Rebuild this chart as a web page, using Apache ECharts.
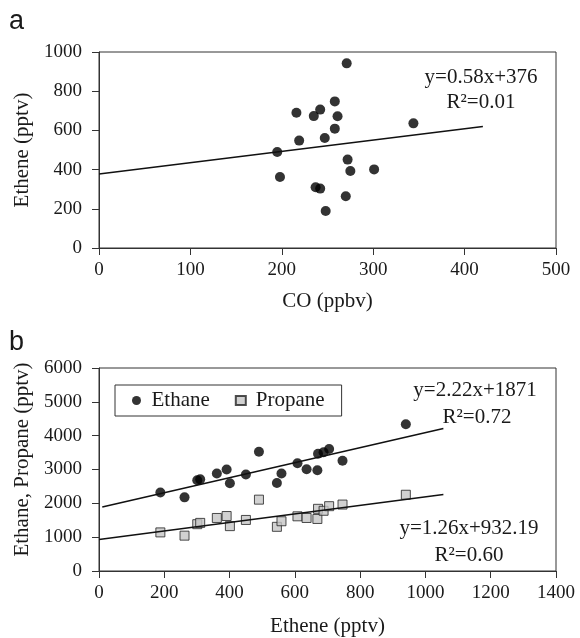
<!DOCTYPE html>
<html>
<head>
<meta charset="utf-8">
<script src="https://cdn.jsdelivr.net/npm/echarts@6/dist/echarts.min.js"></script>
<style>
  html, body { margin: 0; padding: 0; background: #fff; }
  #chart { width: 580px; height: 638px; }
</style>
</head>
<body>
<div id="chart"></div>
<script>
// panel a : ethene vs CO
const coA = [271, 258, 216, 242, 235, 261, 344, 258, 219, 247, 195, 272, 275, 301, 198, 237, 242, 270, 248];
const etheneA = [942, 748, 690, 706, 673, 672, 636, 609, 548, 561, 490, 451, 393, 401, 362, 310, 303, 264, 189];
const fitLineA = [[0, 377], [420, 620]];

// panel b : ethane / propane vs ethene
const etheneB = [188, 262, 301, 310, 361, 391, 401, 450, 490, 545, 559, 608, 636, 669, 671, 688, 705, 746, 940];
const ethane = [2322, 2177, 2680, 2709, 2883, 2999, 2593, 2854, 3522, 2603, 2883, 3183, 3009, 2980, 3463, 3512, 3608, 3261, 4335];
const propane = [1141, 1045, 1384, 1422, 1567, 1625, 1326, 1509, 2109, 1306, 1470, 1616, 1567, 1538, 1838, 1780, 1916, 1964, 2254];
const fitLineEthane = [[10, 1890], [1055, 4210]];
const fitLinePropane = [[0, 930], [1055, 2260]];

const seriesNames = ['Ethane', 'Propane'];
const fitTexts = ['y=0.58x+376', 'R\u00b2=0.01', 'y=2.22x+1871', 'R\u00b2=0.72', 'y=1.26x+932.19', 'R\u00b2=0.60'];

const serif = "'Liberation Serif', 'Times New Roman', serif";
const ink = '#1a1a1a';

function pairs(xs, ys) {
    return xs.map((x, i) => [x, ys[i]]);
}

function valueAxis(gridIndex, min, max, interval, name, gap, labelMargin) {
    return {
        type: 'value',
        gridIndex: gridIndex,
        min: min,
        max: max,
        interval: interval,
        name: name,
        nameLocation: 'middle',
        nameGap: gap,
        nameTextStyle: { fontFamily: serif, fontSize: 21, color: ink },
        axisLine: { show: true, onZero: false, lineStyle: { color: '#333', width: 1 } },
        axisTick: { show: true, length: 7, lineStyle: { color: '#333' } },
        axisLabel: {
            fontFamily: serif, fontSize: 19, color: ink, margin: labelMargin,
            formatter: v => String(v)   // no thousands separator
        },
        splitLine: { show: false }
    };
}

function annot(text, x, y) {
    return {
        type: 'text',
        x: x,
        y: y,
        style: {
            text: text,
            font: "21px " + serif,
            fill: ink,
            textAlign: 'center',
            textVerticalAlign: 'middle'
        }
    };
}

var dom = document.getElementById('chart');
var myChart = echarts.init(dom, null, { renderer: 'canvas' });

var yAxisB = valueAxis(1, 0, 6000, 1000, 'Ethane, Propane (pptv)', 64, 17);
// title sits a little above the middle of the axis in the original
yAxisB.nameTextStyle.padding = [0, 0, 0, 20];

var option = {
    animation: false,
    backgroundColor: '#fff',
    grid: [
        { left: 99, top: 52, width: 457, height: 196, show: true, borderColor: '#333', borderWidth: 1 },
        { left: 99, top: 368, width: 457, height: 207, show: true, borderColor: '#333', borderWidth: 1 }
    ],
    xAxis: [
        valueAxis(0, 0, 500, 100, 'CO (ppbv)', 43, 13),
        valueAxis(1, 0, 1400, 200, 'Ethene (pptv)', 45, 13)
    ],
    yAxis: [
        valueAxis(0, 0, 1000, 200, 'Ethene (pptv)', 63, 17),
        yAxisB
    ],
    legend: {
        data: [
            { name: seriesNames[0], icon: 'circle' },
            { name: seriesNames[1], icon: 'rect' }
        ],
        left: 115,
        top: 385,
        itemWidth: 10,
        itemHeight: 9,
        itemGap: 25,
        padding: [5, 17, 5, 17],
        borderColor: '#333',
        borderWidth: 1,
        textStyle: { fontFamily: serif, fontSize: 21, color: ink, padding: [0, 0, 0, 5] }
    },
    series: [
        {
            name: 'Ethene vs CO',
            type: 'scatter',
            xAxisIndex: 0,
            yAxisIndex: 0,
            symbol: 'circle',
            symbolSize: 10,
            itemStyle: { color: '#000' },
            data: pairs(coA, etheneA)
        },
        {
            name: 'fit a',
            type: 'line',
            xAxisIndex: 0,
            yAxisIndex: 0,
            showSymbol: false,
            silent: true,
            lineStyle: { color: '#111', width: 1.5 },
            data: fitLineA
        },
        {
            name: 'Ethane',
            type: 'scatter',
            xAxisIndex: 1,
            yAxisIndex: 1,
            symbol: 'circle',
            symbolSize: 10,
            itemStyle: { color: '#000' },
            data: pairs(etheneB, ethane)
        },
        {
            name: 'Propane',
            type: 'scatter',
            xAxisIndex: 1,
            yAxisIndex: 1,
            symbol: 'rect',
            symbolSize: 9,
            itemStyle: { color: '#c6c6c6', borderColor: '#222', borderWidth: 1 },
            data: pairs(etheneB, propane)
        },
        {
            name: 'fit ethane',
            type: 'line',
            xAxisIndex: 1,
            yAxisIndex: 1,
            showSymbol: false,
            silent: true,
            lineStyle: { color: '#111', width: 1.5 },
            data: fitLineEthane
        },
        {
            name: 'fit propane',
            type: 'line',
            xAxisIndex: 1,
            yAxisIndex: 1,
            showSymbol: false,
            silent: true,
            lineStyle: { color: '#111', width: 1.5 },
            data: fitLinePropane
        }
    ],
    graphic: [
        // panel letters
        { type: 'text', x: 9, y: 8, style: { text: 'a', font: "27px 'Liberation Sans', Arial, sans-serif", fill: ink } },
        { type: 'text', x: 9, y: 329, style: { text: 'b', font: "27px 'Liberation Sans', Arial, sans-serif", fill: ink } },
        // regression equations
        annot(fitTexts[0], 481, 77),
        annot(fitTexts[1], 481, 102),
        annot(fitTexts[2], 475, 390),
        annot(fitTexts[3], 477, 417),
        annot(fitTexts[4], 469, 528),
        annot(fitTexts[5], 469, 555)
    ]
};

myChart.setOption(option);
window.addEventListener('resize', myChart.resize);
</script>
</body>
</html>
